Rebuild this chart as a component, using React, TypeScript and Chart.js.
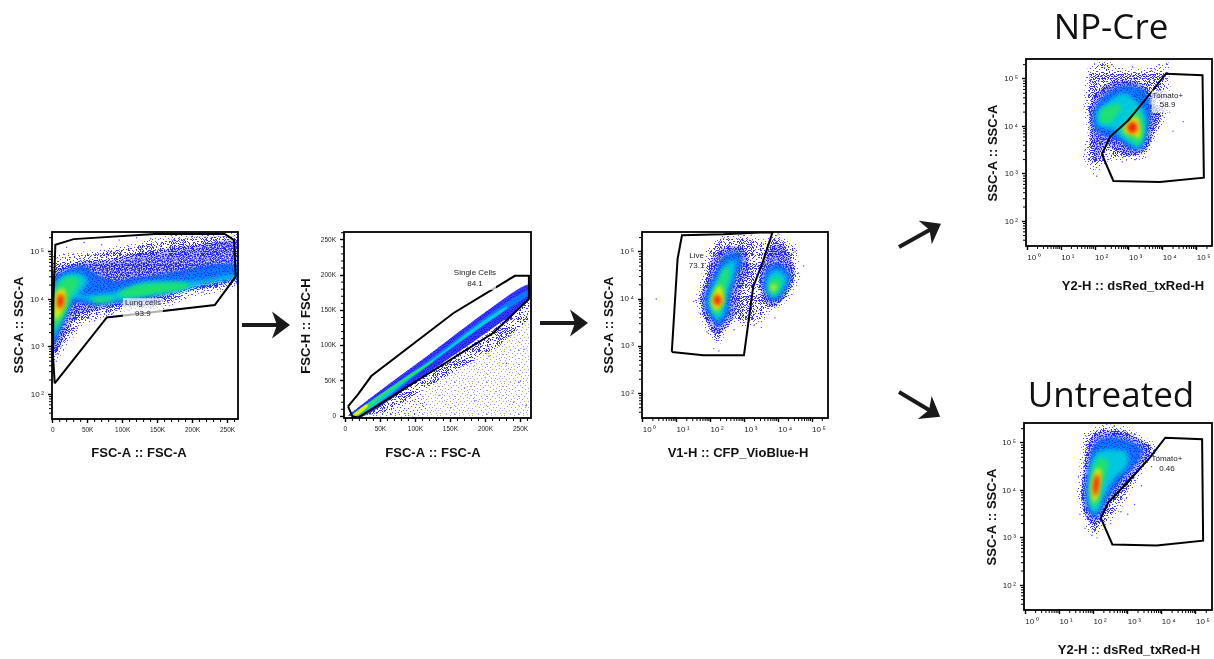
import React, { useEffect, useRef } from "react";
import { Chart, registerables } from "chart.js";

type Pair = number[];

/* ---------- Panel 1: FSC-A (K) vs SSC-A (log10) ---------- */
const p1Gate: Pair[] = [[2.85,2.23],[77.4,3.62],[231.8,3.88],[261.7,4.48],[259.4,5.25],[246,5.38],[146.3,5.38],[29.9,5.27],[3.8,5.15],[1,4.0],[0.5,2.8],[2.85,2.23]];
const p1Sparse: Pair[] = [[0,4.85],[68,4.97],[115,5.11],[163,5.25],[210,5.32],[265,5.32],[265,4.34],[234,4.23],[187,4.09],[154,3.83],[106,3.83],[68,3.67],[44,3.56],[27,3.28],[11,2.97],[0,2.72]];
const p1Blue: Pair[] = [[0,4.55],[44,4.76],[82,4.79],[115,4.9],[163,5.0],[210,5.11],[265,5.18],[265,4.48],[234,4.34],[191,4.23],[163,4.09],[125,3.92],[92,3.92],[59,3.81],[39,3.74],[25,3.56],[13,3.21],[0,2.86]];
const p1Azure: Pair[] = [[0,4.44],[20,4.62],[44,4.69],[63,4.51],[87,4.37],[115,4.44],[153,4.51],[191,4.62],[229,4.72],[265,4.72],[265,4.51],[229,4.41],[191,4.27],[153,4.11],[115,3.99],[87,3.93],[59,3.88],[39,3.95],[27,3.88],[18,3.63],[8.5,3.28],[0,3.0]];
const p1Cyan: Pair[] = [[0,4.27],[13.3,4.48],[37,4.55],[50,4.41],[44,4.23],[37,4.09],[68,4.11],[95,4.18],[130,4.36],[172,4.38],[210,4.4],[258,4.52],[263,4.46],[210,4.3],[172,4.16],[139,4.09],[106,4.0],[68,3.95],[44,3.99],[27.5,4.02],[18,3.74],[8.5,3.42],[0,3.14]];
const p1GreenA: Pair[] = [[1.4,4.09],[8.5,4.34],[23,4.48],[37,4.44],[37,4.3],[27.5,4.09],[23,3.85],[15.7,3.63],[6,3.42],[1.4,3.35]];
const p1GreenB: Pair[] = [[95,4.16],[120,4.3],[149,4.34],[190,4.34],[195,4.24],[149,4.12],[115,4.04],[95,4.07]];
const p1GreenC: Pair[] = [[54,4.02],[68,4.04],[87,4.02],[82,3.95],[61,3.93]];
const p1Yellow: Pair[] = [[2.4,3.99],[6,4.16],[15.7,4.23],[18,4.13],[15.7,3.85],[8.5,3.63],[2.9,3.56]];
const p1Orange: Pair[] = [[5.2,3.99],[8.5,4.13],[14.7,4.11],[15.7,3.95],[11.9,3.78],[7,3.81]];
const p1Red: Pair[] = [[8,3.99],[11,4.09],[14.3,4.04],[13.3,3.88],[10,3.83],[8,3.88]];
const p1Specks: Pair[] = [[20,5.1],[45,5.2],[70,5.15],[95,5.25],[120,5.3],[140,5.28],[170,5.34],[200,5.36],[230,5.35],[30,4.95],[12,3.0],[18,3.3],[35,3.4],[60,3.55],[85,3.7],[110,3.78],[140,3.82],[165,3.93],[190,4.02],[215,4.15],[240,4.22],[260,4.3],[5,2.7],[8,2.85]];

/* ---------- Panel 2: FSC-A (K) vs FSC-H (K) ---------- */
const p2Gate: Pair[] = [[3.8,14],[10,0],[18,-2],[211,118],[262,166],[262,199],[242,199],[154,146],[37,57],[18,31],[3.8,14]];
const p2Wide: Pair[] = [[11,0],[130,76],[262,166],[262,0]];
const p2Low: Pair[] = [[18,0],[100,45],[120,10],[100,0]];
const p2Edge: Pair[] = [[20.5,0],[206,118],[262,168],[262,137],[216,97],[111,38],[63,7]];
const p2Blue: Pair[] = [[3.8,1],[40,29],[111,81],[206,152],[262,187],[262,165],[206,122],[120,63],[63,23],[23,-1]];
const p2Azure: Pair[] = [[6,1],[111,74],[206,145],[262,180],[262,172],[206,135],[111,66],[25,0]];
const p2Cyan: Pair[] = [[8.6,2],[111,71],[187,128],[230,156],[230,152],[187,122],[111,68],[23,2]];
const p2Green: Pair[] = [[8.6,2],[63,40],[125,80],[125,77],[63,35],[18,2]];
const p2Yellow: Pair[] = [[10,2],[30,17],[32,14],[16,1]];
const p2Specks: Pair[] = [[40,8],[60,12],[85,4],[110,18],[135,30],[150,12],[170,40],[185,22],[200,55],[215,35],[230,75],[240,20],[250,50],[255,95],[258,15],[125,50],[165,70],[205,85]];

/* ---------- Panel 3: CFP_VioBlue (log10) vs SSC-A (log10) ---------- */
const p3Gate: Pair[] = [[0.86,2.88],[1.79,2.81],[2.99,2.81],[3.26,4.25],[3.56,4.82],[3.83,5.41],[3.46,5.41],[2.38,5.37],[1.16,5.35],[1.03,4.85],[0.86,2.88]];
const p3Sparse: Pair[] = [[2.19,3.09],[1.94,3.41],[1.65,3.94],[1.84,4.46],[1.99,5.03],[2.38,5.31],[3.07,5.27],[3.56,5.17],[3.95,5.31],[4.44,5.1],[4.54,4.46],[4.25,4.04],[3.66,3.76],[3.46,3.58],[3.07,3.48],[2.63,3.62],[2.38,3.37]];
const p3BlueA: Pair[] = [[2.17,3.3],[1.84,3.69],[1.79,4.08],[2.01,4.46],[2.07,4.82],[2.48,5.06],[2.97,5.03],[3.07,4.61],[2.82,4.18],[2.73,3.76],[2.48,3.48]];
const p3BlueB: Pair[] = [[3.66,3.9],[3.51,4.32],[3.61,4.82],[3.95,5.13],[4.25,4.96],[4.39,4.54],[4.25,4.18],[3.9,3.9]];
const p3AzureA: Pair[] = [[2.24,3.41],[1.89,3.76],[1.84,4.04],[2.14,4.54],[2.38,4.89],[2.82,4.99],[2.92,4.75],[2.73,4.46],[2.58,4.04],[2.53,3.69]];
const p3AzureB: Pair[] = [[3.76,3.97],[3.56,4.29],[3.66,4.61],[4.0,4.75],[4.34,4.5],[4.25,4.22],[3.95,3.97]];
const p3CyanA: Pair[] = [[2.24,3.51],[1.97,3.8],[1.97,4.08],[2.24,4.5],[2.48,4.75],[2.73,4.82],[2.68,4.5],[2.48,4.08],[2.43,3.76]];
const p3CyanB: Pair[] = [[3.8,4.03],[3.66,4.25],[3.75,4.54],[4.0,4.61],[4.25,4.43],[4.1,4.18],[3.9,4.03]];
const p3GreenA: Pair[] = [[2.21,3.62],[2.01,3.87],[2.04,4.08],[2.24,4.39],[2.38,4.64],[2.56,4.61],[2.46,4.25],[2.38,3.9]];
const p3GreenB: Pair[] = [[3.83,4.08],[3.7,4.25],[3.8,4.43],[4.0,4.46],[4.1,4.32],[3.95,4.11]];
const p3YellowA: Pair[] = [[2.19,3.73],[2.04,3.9],[2.11,4.11],[2.26,4.29],[2.36,4.15],[2.36,3.94]];
const p3YellowB: Pair[] = [[3.85,4.15],[3.78,4.25],[3.87,4.32],[3.95,4.25]];
const p3Orange: Pair[] = [[2.19,3.82],[2.07,3.97],[2.19,4.13],[2.33,4.03],[2.31,3.9]];
const p3Red: Pair[] = [[2.19,3.89],[2.11,3.99],[2.21,4.06],[2.29,3.99],[2.26,3.9]];
const p3Specks: Pair[] = [[0.4,4.0],[1.5,3.95],[1.7,3.7],[1.9,3.3],[2.1,2.95],[2.25,2.9],[2.7,3.35],[3.1,3.3],[3.3,3.45],[3.5,3.4],[3.9,3.6],[4.6,4.55],[4.75,4.7],[4.5,5.0],[3.2,5.35],[2.9,5.38],[4.0,5.38],[1.8,4.75]];

/* ---------- Panel 4: NP-Cre, dsRed_txRed (log10) vs SSC-A (log10) ---------- */
const p4Gate: Pair[] = [[2.2,3.41],[2.54,2.85],[3.91,2.83],[5.21,2.92],[5.17,5.08],[4.09,5.11],[3.67,4.73],[2.98,4.13],[2.44,3.78],[2.2,3.41]];
const p4Sparse: Pair[] = [[2.0,3.08],[1.74,3.39],[1.9,3.85],[1.77,4.42],[1.85,5.15],[2.2,5.35],[2.74,5.15],[3.52,5.15],[4.06,5.26],[4.11,4.84],[4.01,4.2],[3.72,3.85],[3.42,3.39],[2.93,3.36],[2.34,3.36],[2.15,3.22]];
const p4Blue: Pair[] = [[2.05,3.29],[1.95,3.64],[1.9,4.35],[2.05,4.65],[2.54,4.92],[3.32,4.88],[3.62,4.62],[3.8,4.27],[3.68,3.92],[3.42,3.5],[2.93,3.43],[2.49,3.61],[2.2,3.57]];
const p4Azure: Pair[] = [[2.0,3.92],[1.95,4.27],[2.25,4.63],[2.83,4.84],[3.42,4.77],[3.62,4.42],[3.57,3.99],[3.37,3.54],[3.03,3.54],[2.74,3.71],[2.34,3.78]];
const p4Cyan: Pair[] = [[2.05,4.03],[2.05,4.31],[2.39,4.52],[2.83,4.7],[3.23,4.52],[3.47,4.27],[3.49,3.92],[3.32,3.57],[3.08,3.61],[2.74,3.78],[2.49,3.96],[2.29,3.96]];
const p4GreenA: Pair[] = [[2.15,4.1],[2.15,4.31],[2.49,4.45],[2.78,4.42],[2.59,4.2],[2.39,4.06]];
const p4GreenB: Pair[] = [[2.74,3.89],[2.98,4.13],[3.23,4.35],[3.42,4.06],[3.42,3.78],[3.27,3.61],[3.08,3.68]];
const p4Yellow: Pair[] = [[2.83,3.92],[3.03,4.13],[3.23,4.2],[3.32,3.96],[3.3,3.75],[3.13,3.82],[2.93,3.85]];
const p4Orange: Pair[] = [[2.89,3.96],[3.08,4.12],[3.23,4.06],[3.25,3.89],[3.08,3.83]];
const p4Red: Pair[] = [[2.96,3.99],[3.1,4.08],[3.21,4.01],[3.18,3.9],[3.03,3.9]];
const p4Specks: Pair[] = [[1.7,3.5],[1.8,3.3],[1.95,3.0],[2.05,2.95],[2.4,3.3],[2.8,3.25],[3.2,3.3],[3.6,3.6],[3.9,4.0],[4.2,4.3],[4.4,4.6],[4.1,5.0],[3.9,5.3],[3.1,5.25],[2.5,5.3],[4.6,4.1],[4.3,3.9]];

/* ---------- Panel 5: Untreated, dsRed_txRed (log10) vs SSC-A (log10) ---------- */
const p5Gate: Pair[] = [[2.21,3.42],[2.55,2.86],[3.85,2.84],[5.21,2.94],[5.18,5.08],[4.1,5.11],[3.66,4.7],[2.97,4.15],[2.43,3.75],[2.21,3.42]];
const p5Sparse: Pair[] = [[1.99,3.1],[1.77,3.45],[1.62,3.87],[1.7,4.51],[1.79,5.14],[2.24,5.32],[2.87,5.28],[3.66,4.96],[3.75,4.86],[3.22,4.3],[2.77,3.73],[2.48,3.45],[2.19,3.24]];
const p5Blue: Pair[] = [[1.99,3.31],[1.77,3.59],[1.72,3.94],[1.81,4.51],[1.94,5.04],[2.24,5.21],[2.87,5.18],[3.56,4.93],[3.61,4.79],[3.07,4.3],[2.43,3.73],[2.14,3.38]];
const p5Azure: Pair[] = [[1.99,3.42],[1.81,3.66],[1.77,4.01],[1.89,4.58],[2.04,4.96],[2.43,5.11],[2.97,5.04],[3.41,4.86],[3.26,4.58],[2.87,4.3],[2.43,3.87],[2.17,3.52]];
const p5Cyan: Pair[] = [[1.99,3.49],[1.86,3.73],[1.84,4.15],[1.94,4.61],[2.14,4.82],[2.58,4.86],[2.97,4.79],[2.97,4.51],[2.58,4.23],[2.33,3.91],[2.14,3.59]];
const p5Green: Pair[] = [[1.99,3.59],[1.89,3.84],[1.91,4.23],[2.04,4.58],[2.21,4.7],[2.43,4.58],[2.33,4.3],[2.21,3.98],[2.11,3.7]];
const p5Yellow: Pair[] = [[1.99,3.73],[1.94,4.01],[1.99,4.26],[2.11,4.47],[2.22,4.4],[2.17,4.12],[2.11,3.84]];
const p5Orange: Pair[] = [[2.01,3.84],[1.98,4.08],[2.05,4.31],[2.15,4.35],[2.16,4.15],[2.09,3.91]];
const p5Red: Pair[] = [[2.03,3.89],[2.01,4.08],[2.06,4.28],[2.13,4.31],[2.13,4.12],[2.08,3.94]];
const p5Specks: Pair[] = [[1.6,3.5],[1.75,3.2],[1.95,3.05],[2.1,3.0],[2.5,3.3],[2.8,3.55],[3.0,3.5],[3.2,3.7],[3.4,4.1],[3.7,4.5],[3.9,4.7],[1.55,4.3],[2.6,5.35],[3.1,5.2]];

/* ---------- Ticks ---------- */
const logDecades = [0, 1, 2, 3, 4, 5];
const logLabels = ["10\u2009\u2070", "10\u2009\u00b9", "10\u2009\u00b2", "10\u2009\u00b3", "10\u2009\u2074", "10\u2009\u2075"];
const logMinorSteps = [2, 3, 4, 5, 6, 7, 8, 9];
const linearMajor = [0, 50000, 100000, 150000, 200000, 250000];
const linearLabels = ["0", "50K", "100K", "150K", "200K", "250K"];
const linearMinor = [10000, 20000, 30000, 40000, 60000, 70000, 80000, 90000, 110000, 120000, 130000, 140000, 160000, 170000, 180000, 190000, 210000, 220000, 230000, 240000, 260000];

/* ---------- Styles ---------- */
const SANS = "'Liberation Sans', Arial, sans-serif";
const C: Record<string, string> = { blue: "rgba(26,26,255,0.6)", azure: "#0a78ff", cyan: "#00c8e0", green: "#20e070", yellow: "#e8f000", orange: "#ff9000", red: "#ee1010" };
const denseTile = ["#..#.##..#...#.#",".#...#.#..##....","..##....#...#.##","#....#.#..#.....",".#.#...##..#.#.#","...#.#....#..#..","##....#.#...#...","..#.#..#..##..#.","#...#.#...#..#..",".##....#.#...#.#","...#.#...#.#....","#.#..#.##...##..","..#.#.....#..#.#",".#...##.#....#..","#..#....#.##...#","..#..#.#...#.#.."];
const sparseTile = ["#.......#.......","....#.........#.","..........#.....",".#....#.........","............#..#","...#............",".........#......","......#.......#.","#...........#...","...#.....#......",".............#..",".......#........","..#.........#...","..........#....#","#....#..........","............#..."];

// The hand-written tile is mirrored into a 32 x 32 texture, so the grain does not repeat visibly.
function makePattern(tiles: string[][], color: string) {
  const c = document.createElement("canvas");
  c.width = 32; c.height = 32;
  const g = c.getContext("2d")!;
  g.fillStyle = color;
  tiles.forEach((rows, t) => rows.forEach((row, y) => row.split("").forEach((ch, x) => {
    if (ch !== "#") return;
    const s = t * 5;
    g.fillRect((x + s) % 16, (y + s) % 16, 1, 1);
    g.fillRect(16 + ((15 - x + s) % 16), (y + s) % 16, 1, 1);
    g.fillRect((y + s) % 16, 16 + ((x + s) % 16), 1, 1);
    g.fillRect(16 + ((15 - y + s) % 16), 16 + ((15 - x + s) % 16), 1, 1);
  })));
  return g.createPattern(c, "repeat")!;
}

const blurPlugin = {
  id: "densityBlur",
  beforeDatasetDraw(chart: any, args: any) {
    const b = chart.data.datasets[args.index].blurPx;
    if (b) chart.ctx.filter = `blur(${b}px)`;
  },
  afterDatasetDraw(chart: any) { chart.ctx.filter = "none"; },
};
Chart.register(blurPlugin);
Chart.register(...registerables);

type Layer = [Pair[], string];
interface Panel {
  frame: number[]; box: number[]; xKind: "k" | "exp"; yKind: "k" | "exp";
  xRange: number[]; yRange: number[]; gate: Pair[]; layers: Layer[]; specks: Pair[]; blur: number; halo: number;
  xTitle: string; yTitle: string; xTitlePos: number[]; yTitlePos: number[];
  gateName: string; gateValue: string; labelAt: Pair; labelBox: number[]; header?: string; headerPos?: number[];
}

const SSC = "SSC-A :: SSC-A";
const FSC = "FSC-A :: FSC-A";
const Y2 = "Y2-H :: dsRed_txRed-H";

const panels: Panel[] = [
  { frame: [52, 232, 238, 419], box: [0, 222, 275, 245], xKind: "k", yKind: "exp", xRange: [-1, 265], yRange: [1.48, 5.42], gate: p1Gate,
    layers: [[p1Sparse, "medium"], [p1Blue, "blue"], [p1Azure, "azure"], [p1Cyan, "cyan"], [p1GreenA, "green"], [p1GreenB, "green"], [p1GreenC, "green"], [p1Yellow, "yellow"], [p1Orange, "orange"], [p1Red, "red"]],
    specks: p1Specks, blur: 2, halo: 8, xTitle: FSC, yTitle: SSC, xTitlePos: [139, 453], yTitlePos: [19, 325],
    gateName: "Lung cells", gateValue: "93.9", labelAt: [129, 3.92, 3.70], labelBox: [40, 22] },
  { frame: [344, 232, 531, 418], box: [295, 222, 255, 245], xKind: "k", yKind: "k", xRange: [-2, 265], yRange: [-2.4, 261], gate: p2Gate,
    layers: [[p2Wide, "faint"], [p2Low, "sparse"], [p2Edge, "medium"], [p2Blue, "blue"], [p2Azure, "azure"], [p2Cyan, "cyan"], [p2Green, "green"], [p2Yellow, "yellow"]],
    specks: p2Specks, blur: 0.7, halo: 0, xTitle: FSC, yTitle: "FSC-H :: FSC-H", xTitlePos: [433, 453], yTitlePos: [306, 326],
    gateName: "Single Cells", gateValue: "84.1", labelAt: [185, 203, 188], labelBox: [42, 22] },
  { frame: [642, 232, 828, 418], box: [600, 222, 240, 245], xKind: "exp", yKind: "exp", xRange: [-0.02, 5.47], yRange: [1.48, 5.42], gate: p3Gate,
    layers: [[p3Sparse, "medium"], [p3BlueA, "blue"], [p3BlueB, "blue"], [p3AzureA, "azure"], [p3AzureB, "azure"], [p3CyanA, "cyan"], [p3CyanB, "cyan"], [p3GreenA, "green"], [p3GreenB, "green"], [p3YellowA, "yellow"], [p3YellowB, "yellow"], [p3Orange, "orange"], [p3Red, "red"]],
    specks: p3Specks, blur: 2, halo: 8, xTitle: "V1-H :: CFP_VioBlue-H", yTitle: SSC, xTitlePos: [738, 453], yTitlePos: [609, 325],
    gateName: "Live", gateValue: "73.1", labelAt: [1.59, 4.92, 4.70], labelBox: [0, 0] },
  { frame: [1026, 59, 1212, 246], box: [975, 0, 239, 300], xKind: "exp", yKind: "exp", xRange: [-0.04, 5.45], yRange: [1.48, 5.42], gate: p4Gate,
    layers: [[p4Sparse, "medium"], [p4Blue, "blue"], [p4Azure, "azure"], [p4Cyan, "cyan"], [p4GreenA, "green"], [p4GreenB, "green"], [p4Yellow, "yellow"], [p4Orange, "orange"], [p4Red, "red"]],
    specks: p4Specks, blur: 2, halo: 8, xTitle: Y2, yTitle: SSC, xTitlePos: [1133, 286], yTitlePos: [993, 153],
    gateName: "Tomato+", gateValue: "58.9", labelAt: [4.14, 4.65, 4.45], labelBox: [32, 22], header: "NP-Cre", headerPos: [1111, 39] },
  { frame: [1024, 423, 1212, 610], box: [975, 370, 239, 289], xKind: "exp", yKind: "exp", xRange: [-0.04, 5.47], yRange: [1.48, 5.42], gate: p5Gate,
    layers: [[p5Sparse, "medium"], [p5Blue, "blue"], [p5Azure, "azure"], [p5Cyan, "cyan"], [p5Green, "green"], [p5Yellow, "yellow"], [p5Orange, "orange"], [p5Red, "red"]],
    specks: p5Specks, blur: 2, halo: 8, xTitle: Y2, yTitle: SSC, xTitlePos: [1129, 650], yTitlePos: [992, 517],
    gateName: "Tomato+", gateValue: "0.46", labelAt: [4.15, 4.66, 4.45], labelBox: [0, 0], header: "Untreated", headerPos: [1111, 407] },
];

const toVal = (v: number, kind: string) => (kind === "k" ? v * 1000 : Math.pow(10, v));

function scaleOptions(kind: string, range: number[], horizontal: boolean, reserved: number) {
  const isLog = kind === "exp";
  const major = isLog ? logDecades.map((d) => Math.pow(10, d)) : linearMajor;
  const labels = isLog ? logLabels : linearLabels;
  const minor = isLog ? logDecades.flatMap((d) => logMinorSteps.map((m) => m * Math.pow(10, d))) : linearMinor;
  const min = toVal(range[0], kind), max = toVal(range[1], kind);
  return {
    type: isLog ? "logarithmic" : "linear",
    min, max,
    border: { display: false },
    grid: {
      drawOnChartArea: false, drawTicks: true, tickLength: 4, tickWidth: 1.4,
      tickColor: (c: any) => (c.tick && c.tick.major ? "#000" : "rgba(0,0,0,0)"),
    },
    afterBuildTicks(scale: any) {
      scale.ticks = [
        ...major.filter((v) => v >= min && v <= max).map((value) => ({ value, major: true })),
        ...minor.filter((v) => v >= min && v <= max).map((value) => ({ value, major: false })),
      ];
    },
    ticks: {
      autoSkip: false, maxRotation: 0, minRotation: 0, color: "#222", padding: horizontal ? 3 : 4,
      align: horizontal && isLog ? "start" : "center",
      font: { family: SANS, size: isLog ? 8 : 6.5 },
      callback: (v: number) => { const i = major.indexOf(v); return i >= 0 ? labels[i] : ""; },
    },
    afterFit(scale: any) { if (horizontal) scale.height = reserved; else scale.width = reserved; },
  };
}

function decor(p: Panel) {
  return {
    id: "panelDecor",
    afterDraw(chart: any) {
      const { ctx, chartArea: a, scales } = chart;
      const ox = p.box[0], oy = p.box[1];
      ctx.save();
      // minor ticks
      ctx.strokeStyle = "#000"; ctx.lineWidth = 1;
      ctx.beginPath();
      scales.x.ticks.filter((t: any) => !t.major).forEach((t: any) => { const x = scales.x.getPixelForValue(t.value); ctx.moveTo(x, a.bottom); ctx.lineTo(x, a.bottom + 3); });
      scales.y.ticks.filter((t: any) => !t.major).forEach((t: any) => { const y = scales.y.getPixelForValue(t.value); ctx.moveTo(a.left, y); ctx.lineTo(a.left - 3, y); });
      ctx.stroke();
      // gate label
      const lx = scales.x.getPixelForValue(toVal(p.labelAt[0], p.xKind));
      const ly1 = scales.y.getPixelForValue(toVal(p.labelAt[1], p.yKind));
      const ly2 = scales.y.getPixelForValue(toVal(p.labelAt[2], p.yKind));
      if (p.labelBox[0]) {
        ctx.fillStyle = "rgba(255,255,255,0.7)";
        ctx.fillRect(lx - p.labelBox[0] / 2, ly1 - 5, p.labelBox[0], p.labelBox[1]);
      }
      ctx.fillStyle = "#222"; ctx.textAlign = "center"; ctx.textBaseline = "middle";
      ctx.font = `8px ${SANS}`;
      ctx.fillText(p.gateName, lx, ly1);
      ctx.fillText(p.gateValue, lx, ly2);
      // frame
      ctx.strokeStyle = "#000"; ctx.lineWidth = 1.8;
      ctx.strokeRect(a.left, a.top, a.right - a.left, a.bottom - a.top);
      // axis titles
      ctx.fillStyle = "#111"; ctx.font = `bold 13px ${SANS}`;
      ctx.fillText(p.xTitle, p.xTitlePos[0] - ox, p.xTitlePos[1] - oy);
      ctx.translate(p.yTitlePos[0] - ox, p.yTitlePos[1] - oy);
      ctx.rotate(-Math.PI / 2);
      ctx.fillText(p.yTitle, 0, 0);
      ctx.restore();
      // header
      if (p.header && p.headerPos) {
        ctx.save();
        ctx.fillStyle = "#111"; ctx.textAlign = "center"; ctx.textBaseline = "alphabetic";
        ctx.font = `35px 'Open Sans', 'Noto Sans', sans-serif`;
        ctx.fillText(p.header, p.headerPos[0] - ox, p.headerPos[1] - oy);
        ctx.restore();
      }
    },
  };
}

function PanelChart({ p }: { p: Panel }) {
  const ref = useRef<HTMLCanvasElement>(null);
  useEffect(() => {
    const canvas = ref.current!;
    const textures: Record<string, any> = {
      dense: makePattern([denseTile], "#2626ff"),
      medium: makePattern([sparseTile, sparseTile, denseTile.slice(0, 8)], "#3030ff"),
      sparse: makePattern([sparseTile], "#5050ff"),
      faint: makePattern([sparseTile], "#9a9aff"),
      holes: makePattern([sparseTile, sparseTile], "rgba(255,255,255,0.8)"),
      blueDots: makePattern([sparseTile, sparseTile], "rgba(26,26,255,0.8)"),
    };
    const grainy = p.halo > 0;
    const conv = (arr: Pair[]) => arr.map(([a, b]) => ({ x: toVal(a, p.xKind), y: toVal(b, p.yKind) }));
    const polySet = (poly: Pair[], fillWith: any, blurPx: number, borderWidth = 0, borderColor: any = "rgba(0,0,0,0)") => ({
      data: conv([...poly, poly[0]]), showLine: true, borderWidth, borderColor, pointRadius: 0,
      tension: blurPx ? 0.35 : 0, fill: "shape", backgroundColor: fillWith, blurPx,
    });
    // Painted from the bottom of the cloud upwards: grain first, then the density levels.
    const layerSets = p.layers.flatMap(([poly, key]) => {
      if (key === "medium") return [polySet(poly, textures.medium, 0, p.halo, textures.sparse)];
      if (key === "sparse" || key === "faint") return [polySet(poly, textures[key], 0)];
      if (key === "blue") {
        return grainy
          ? [polySet(poly, textures.dense, 0, 6, textures.dense), polySet(poly, C.blue, p.blur), polySet(poly, textures.holes, 0)]
          : [polySet(poly, textures.dense, 0), polySet(poly, "rgba(26,26,255,0.85)", p.blur)];
      }
      if (key === "azure") return grainy ? [polySet(poly, C.azure, p.blur), polySet(poly, textures.blueDots, 0)] : [polySet(poly, C.azure, p.blur)];
      return [polySet(poly, C[key], p.blur)];
    });
    const speckSet = { data: conv(p.specks), showLine: false, pointRadius: 0.7, borderWidth: 0, backgroundColor: "#4040ff" };
    const gateSet = { data: conv(p.gate), showLine: true, fill: false, borderColor: "#000", borderWidth: 2, pointRadius: 0, tension: 0, borderJoinStyle: "miter" };
    // Chart.js paints the last dataset first, so the list runs from top to bottom.
    const datasets = [gateSet, ...layerSets.reverse(), speckSet];
    const [L, T, R, B] = p.frame;
    const [bx, by, bw, bh] = p.box;
    const chart = new Chart(canvas, {
      type: "scatter",
      data: { datasets },
      options: {
        animation: false, responsive: false, events: [],
        layout: { autoPadding: false, padding: { top: T - by, right: bx + bw - R, left: 0, bottom: 0 } },
        plugins: { legend: { display: false }, tooltip: { enabled: false }, title: { display: false } },
        scales: {
          x: scaleOptions(p.xKind, p.xRange, true, by + bh - B),
          y: scaleOptions(p.yKind, p.yRange, false, L - bx),
        },
      },
      plugins: [decor(p)],
    } as any);
    return () => chart.destroy();
  }, [p]);
  const [bx, by, bw, bh] = p.box;
  return <canvas ref={ref} width={bw} height={bh} style={{ position: "absolute", left: bx, top: by, width: bw, height: bh }} />;
}

const arrowPlacements = [
  { x: 242, y: 325, angle: 0 },
  { x: 540, y: 323, angle: 0 },
  { x: 899, y: 247, angle: -29 },
  { x: 899, y: 392, angle: 31 },
];

export default function App() {
  return (
    <div style={{ position: "absolute", left: 0, top: 0, width: 1214, height: 659, overflow: "hidden", background: "#fff" }}>
      {panels.map((p, i) => <PanelChart key={i} p={p} />)}
      <svg width={1214} height={659} style={{ position: "absolute", left: 0, top: 0, pointerEvents: "none" }}>
        {arrowPlacements.map((a, i) => (
          <g key={i} transform={`translate(${a.x} ${a.y}) rotate(${a.angle})`}>
            <path d="M0 -2 L37 -2 L37 2 L0 2 Z" fill="#1a1a1a" />
            <path d="M48 0 L30 -13.5 L35 0 L30 13.5 Z" fill="#1a1a1a" />
          </g>
        ))}
      </svg>
    </div>
  );
}
